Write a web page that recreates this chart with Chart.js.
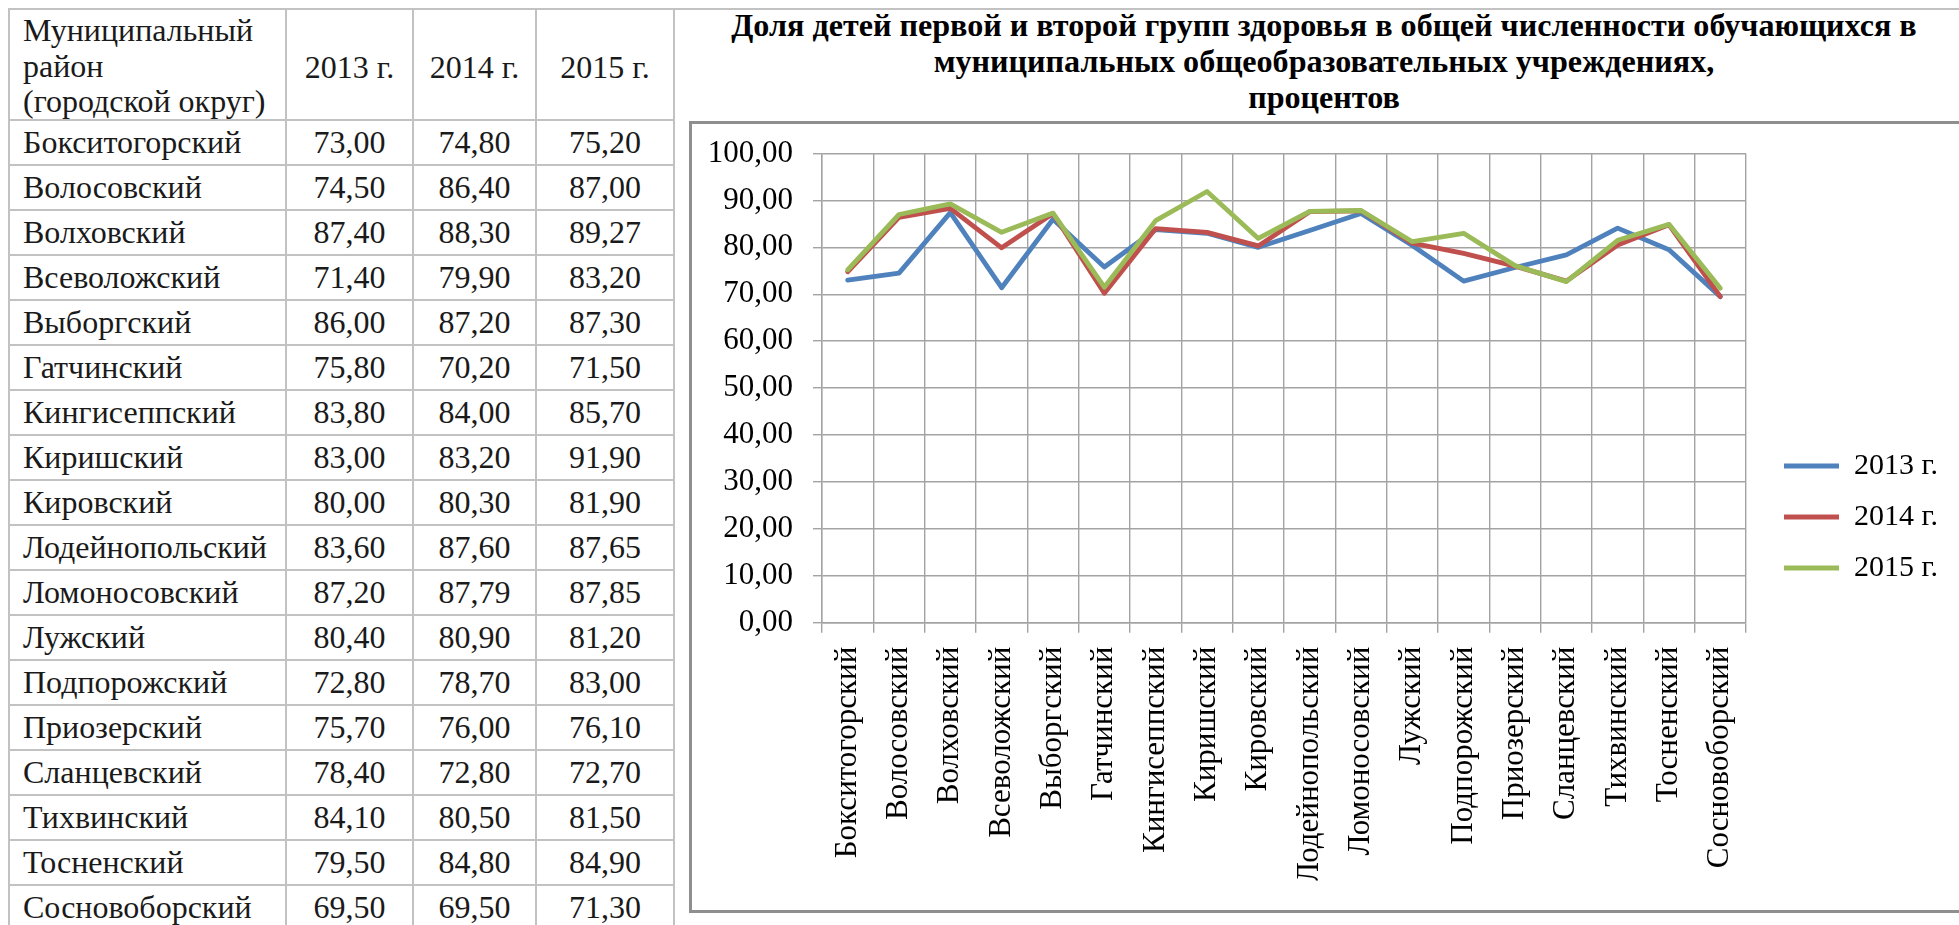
<!DOCTYPE html>
<html>
<head>
<meta charset="utf-8">
<script src="https://cdn.jsdelivr.net/npm/chart.js@4.4.1/dist/chart.umd.min.js"></script>
<style>
html,body{margin:0;padding:0;background:#fff;width:1959px;height:925px;overflow:hidden;}
body{position:relative;font-family:"Liberation Serif","Times New Roman","DejaVu Serif",serif;}
.ln{position:absolute;background:#c2c2c2;}
.cell{position:absolute;font-family:"Liberation Serif","Times New Roman","DejaVu Serif",serif;font-size:32px;color:#1a1a1a;white-space:nowrap;display:flex;align-items:center;}
.num{justify-content:center;}
.hl{position:absolute;font-family:"Liberation Serif","Times New Roman","DejaVu Serif",serif;font-size:32px;line-height:32px;color:#1a1a1a;white-space:nowrap;}
.tl{position:absolute;left:674px;width:1300px;text-align:center;font-family:"Liberation Serif","Times New Roman","DejaVu Serif",serif;font-weight:700;color:#000;white-space:nowrap;}
#frame{position:absolute;left:689px;top:121px;width:1300px;height:792px;box-sizing:border-box;border:3px solid #8f8f8f;}
#wrap{position:absolute;left:692px;top:124px;width:1267px;height:786px;}
</style>
</head>
<body>
<div id="tbl"></div>
<div id="ttl"></div>
<div id="frame"></div>
<div id="wrap"><canvas id="c"></canvas></div>
<script>
// ---- data ----
const districts = ['Бокситогорский','Волосовский','Волховский','Всеволожский','Выборгский','Гатчинский','Кингисеппский','Киришский','Кировский','Лодейнопольский','Ломоносовский','Лужский','Подпорожский','Приозерский','Сланцевский','Тихвинский','Тосненский','Сосновоборский'];
const years = ['2013 г.','2014 г.','2015 г.'];
const v2013 = [73.00,74.50,87.40,71.40,86.00,75.80,83.80,83.00,80.00,83.60,87.20,80.40,72.80,75.70,78.40,84.10,79.50,69.50];
const v2014 = [74.80,86.40,88.30,79.90,87.20,70.20,84.00,83.20,80.30,87.60,87.79,80.90,78.70,76.00,72.80,80.50,84.80,69.50];
const v2015 = [75.20,87.00,89.27,83.20,87.30,71.50,85.70,91.90,81.90,87.65,87.85,81.20,83.00,76.10,72.70,81.50,84.90,71.30];
const headerLines = ['Муниципальный','район','(городской округ)'];
const titleLines = ['Доля детей первой и второй групп здоровья в общей численности обучающихся в','муниципальных общеобразовательных учреждениях,','процентов'];
const yMin = 0, yMax = 100, yStep = 10;
const colors = ['#4F81BD','#C0504D','#9BBB59'];

// ---- table ----
const tbl = document.getElementById('tbl');
function add(parent,cls,x,y,w,h,txt){const d=document.createElement('div');d.className=cls;d.style.left=x+'px';d.style.top=y+'px';if(w!=null)d.style.width=w+'px';if(h!=null)d.style.height=h+'px';if(txt!=null)d.textContent=txt;parent.appendChild(d);return d;}
const xs=[9,286,413,536,674];
const hTop=9,hBot=120,rowH=45;
const nRows=districts.length;
const tBot=hBot+rowH*nRows;
xs.forEach(x=>add(tbl,'ln',x-1,hTop-1,2,tBot-hTop+2));
add(tbl,'ln',8,hTop-1,1970,2);
add(tbl,'ln',8,hBot-1,674-8,2);
for(let k=1;k<=nRows;k++) add(tbl,'ln',8,hBot+rowH*k-1,674-8,2);
// header lines, baselines ~43, 79, 115 (line box 32px: baseline at ~28.5 from top)
const F=32, hStep=35.5, hBase0=41;
headerLines.forEach((t,i)=>add(tbl,'hl',23,hBase0+i*hStep-(32-1.107*F)/2-0.891*F,null,null,t));
years.forEach((y,i)=>add(tbl,'cell num',xs[i+1],hTop+3,xs[i+2]-xs[i+1],hBot-hTop,y));
const series=[v2013,v2014,v2015];
districts.forEach((d,k)=>{
  const top=hBot+rowH*k;
  add(tbl,'cell',23,top,xs[1]-23,rowH,d);
  series.forEach((s,i)=>add(tbl,'cell num',xs[i+1],top,xs[i+2]-xs[i+1],rowH,s[k].toFixed(2).replace('.',',')));
});
// title lines: size fitted so the first line spans its width in the picture
const ttl=document.getElementById('ttl');
const mc=document.createElement('canvas').getContext('2d');
mc.font="bold 100px 'Liberation Serif'";
let tF=100*1186/mc.measureText(titleLines[0]).width;
tF=Math.max(24,Math.min(34,tF));
const tBase=[37,73,109];
titleLines.forEach((t,i)=>{const d=add(ttl,'tl',674,tBase[i]-0.891*tF-1,null,null,t);d.style.fontSize=tF+'px';d.style.lineHeight=(1.107*tF+2)+'px';});

// ---- chart ----
Chart.defaults.font.family="'Liberation Serif','Times New Roman',serif";
Chart.defaults.color='#000';
const W=1267,H=786;
const plotLeft=130, plotRight=1054, plotTop=29.5, plotBottom=498.7;
const legFont=30, legPad=21, legLine=55;
mc.font=legFont+"px 'Liberation Serif'";
const maxTxt=Math.max(...years.map(t=>mc.measureText(t).width));
const legendWidth=legPad+legLine+legFont/2+maxTxt+10;
const padRight=W-plotRight-legendWidth;
const legendShift=17;

const grid='#a3a3a3';
new Chart(document.getElementById('c'),{
  type:'line',
  data:{
    labels:districts,
    datasets:series.map((s,i)=>({
      label:years[i],data:s,borderColor:colors[i],backgroundColor:colors[i],
      borderWidth:4.8,pointRadius:0,tension:0,borderJoinStyle:'round',borderCapStyle:'round',
      order:3-i
    }))
  },
  options:{
    responsive:true,maintainAspectRatio:false,animation:false,
    layout:{padding:{left:0,top:plotTop,bottom:plotTop,right:padRight}},
    plugins:{
      legend:{position:'right',align:'center',
        labels:{usePointStyle:true,pointStyle:'line',pointStyleWidth:legLine,padding:legPad,
          font:{size:legFont},color:'#000',sort:(a,b)=>a.datasetIndex-b.datasetIndex}},
      tooltip:{enabled:false},title:{display:false}
    },
    scales:{
      x:{offset:true,
        grid:{offset:true,color:grid,lineWidth:1.4,tickLength:10,drawTicks:true},
        border:{color:grid,width:1.4},
        ticks:{autoSkip:false,minRotation:90,maxRotation:90,padding:14,font:{size:31},color:'#000'},
        afterFit:s=>{s.height=H-plotTop-plotBottom;s.paddingLeft=0;s.paddingRight=0;}
      },
      y:{min:yMin,max:yMax,
        grid:{color:grid,lineWidth:1.4,tickLength:9},
        border:{color:grid,width:1.4},
        ticks:{stepSize:yStep,padding:20,font:{size:31},color:'#000',
          callback:v=>Number(v).toFixed(2).replace('.',',')},
        afterFit:s=>{s.width=plotLeft;s.paddingTop=0;s.paddingBottom=0;}
      }
    }
  },
  plugins:[{id:'legShift',afterLayout(chart){const L=chart.legend;if(L){L.left=chart.chartArea.right+legendShift;L.right=L.left+L.width;}}}]
});
</script>
</body>
</html>
